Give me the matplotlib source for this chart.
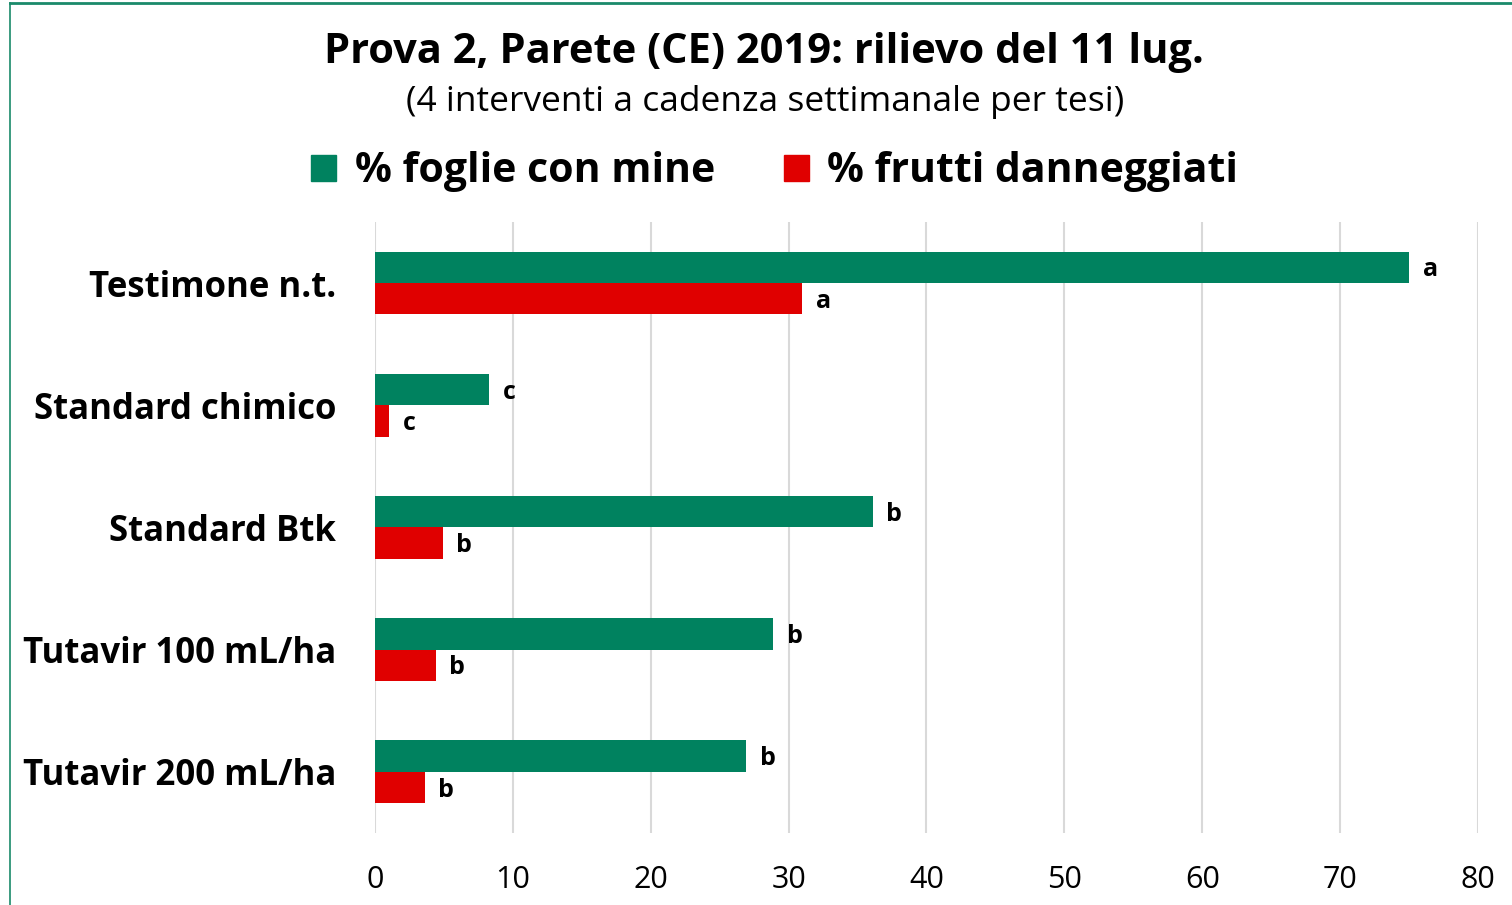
import matplotlib.pyplot as plt
import numpy as np
from matplotlib.patches import Rectangle
from matplotlib.lines import Line2D

plt.rcParams['font.family'] = ['Open Sans', 'DejaVu Sans']

categories = ["Testimone n.t.", "Standard chimico", "Standard Btk",
              "Tutavir 100 mL/ha", "Tutavir 200 mL/ha"]
foglie = [75.0, 8.3, 36.1, 28.9, 26.9]
frutti = [31.0, 1.0, 4.9, 4.4, 3.6]
lettere_foglie = ["a", "c", "b", "b", "b"]
lettere_frutti = ["a", "c", "b", "b", "b"]
series_names = ["% foglie con mine", "% frutti danneggiati"]

green = '#00825f'
red = '#e00000'

fig = plt.figure(figsize=(15.12, 9.05), dpi=100)
ax = fig.add_axes([0.248, 0.0796, 0.7295, 0.6751])

y = np.arange(len(categories))
h = 0.257
ax.barh(y - h / 2, foglie, height=h, color=green, zorder=2)
ax.barh(y + h / 2, frutti, height=h, color=red, zorder=2)

for yi, v, t in zip(y, foglie, lettere_foglie):
    ax.text(v + 1.0, yi - h / 2 + 0.02, t, ha='left', va='center',
            fontsize=18, fontweight='bold')
for yi, v, t in zip(y, frutti, lettere_frutti):
    ax.text(v + 1.0, yi + h / 2 + 0.02, t, ha='left', va='center',
            fontsize=18, fontweight='bold')

ax.set_xlim(0, 80)
ax.set_ylim(len(categories) - 0.5, -0.5)
ax.set_xticks(range(0, 81, 10))
ax.set_yticks(y)
ax.set_yticklabels(categories, fontsize=25, fontweight='bold')
ax.tick_params(axis='x', labelsize=22, length=0, pad=23)
ax.tick_params(axis='y', length=0, pad=28)
ax.grid(axis='x', color='#d9d9d9', linewidth=1.5, zorder=0)
for s in ax.spines.values():
    s.set_visible(False)

fig.text(0.505, 0.9415, "Prova 2, Parete (CE) 2019: rilievo del 11 lug.",
         ha='center', va='center', fontsize=30, fontweight='bold')
fig.text(0.506, 0.887, "(4 interventi a cadenza settimanale per tesi)",
         ha='center', va='center', fontsize=25.5)

# legend
handles = [Rectangle((0, 0), 1, 1, color=green), Rectangle((0, 0), 1, 1, color=red)]
fig.legend(handles, series_names, loc='center', bbox_to_anchor=(0.5125, 0.8105),
           ncol=2, frameon=False, prop={'size': 29.5, 'weight': 'bold'},
           handlelength=0.6, handleheight=0.6, handletextpad=0.45, columnspacing=1.7)

# chart frame (top and left edges visible)
fig.add_artist(Line2D([0.0066, 1.0], [0.9962, 0.9962], color='#1a8a6a', linewidth=2,
                      transform=fig.transFigure))
fig.add_artist(Line2D([0.0066, 0.0066], [0.0, 0.9962], color='#1a8a6a', linewidth=1.2,
                      transform=fig.transFigure))

fig.savefig('out.png', dpi=100)
